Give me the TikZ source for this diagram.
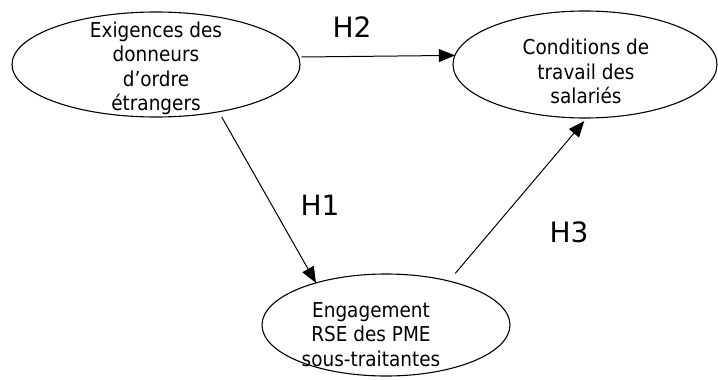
\documentclass[tikz,border=0pt]{standalone}
\usepackage{fontspec}
\setmainfont{DejaVu Sans}[FakeStretch=0.9]
\newfontfamily\hfont{DejaVu Sans}
\usetikzlibrary{shapes.geometric,arrows.meta}
\begin{document}
\begin{tikzpicture}[x=1pt,y=-1pt,
  oval/.style={draw=black,line width=1.1pt,ellipse,inner sep=0pt,outer sep=0pt},
  txt/.style={align=center,inner sep=0pt,font=\fontsize{20.5}{24.5}\selectfont},
  hyp/.style={inner sep=0pt,font=\hfont\fontsize{28}{30}\selectfont},
  link/.style={draw=black,line width=1pt,-{Triangle[length=16pt,width=13pt]}}]
\useasboundingbox (0,0) rectangle (718,380);
\fill[white] (0,0) rectangle (718,380);
\node[oval,minimum width=288pt,minimum height=105pt] (e1) at (156,64.5) {};
\node[oval,minimum width=264pt,minimum height=107pt] (e2) at (585,64.5) {};
\node[oval,minimum width=248pt,minimum height=102pt] (e3) at (386,325) {};
\node[txt] (t1) at (156,68.4) {Exigences des\\donneurs\\d’ordre\\étrangers};
\node[txt] (t2) at (586,71.7) {Conditions de\\travail des\\salariés};
\node[txt] (t3) at (371,334.5) {Engagement\\RSE des PME\\sous-traitantes};
\draw[link,shorten <=3pt] (e1.3) -- (e2.176.7);
\draw[link,shorten <=6pt] (e1.-37.3) -- (e3.149.5);
\draw[link,shorten <=10pt,shorten >=4pt] (e3.35.8) -- (e2.-88.6);
\node[hyp] (h2) at (352,27) {H2};
\node[hyp] (h1) at (320,205) {H1};
\node[hyp] (h3) at (569,232) {H3};
\end{tikzpicture}
\end{document}
